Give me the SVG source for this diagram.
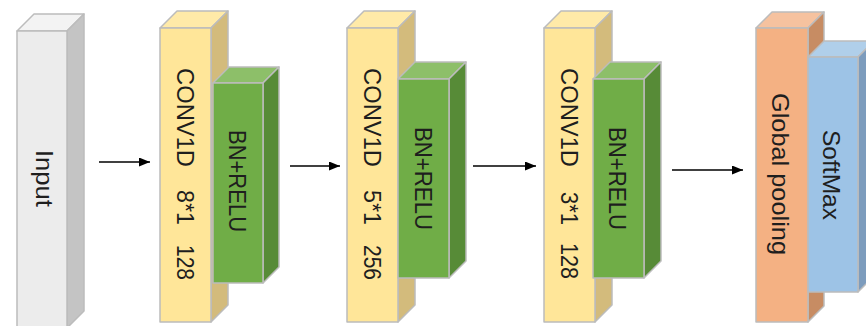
<svg xmlns="http://www.w3.org/2000/svg" width="866" height="326" viewBox="0 0 866 326">
<style>
.s{stroke:#bcbcbc;stroke-width:1.5;stroke-linejoin:round}
.inF{fill:#ececec}.inT{fill:#f3f3f3}.inS{fill:#c4c4c4}
.cvF{fill:#ffe699}.cvT{fill:#ffeaa8}.cvS{fill:#d3bb7c}
.bnF{fill:#70ad47}.bnT{fill:#8dbf69}.bnS{fill:#578b37}
.gpF{fill:#f4b183}.gpT{fill:#f6c29f}.gpS{fill:#c78c63}
.smF{fill:#9dc3e6}.smT{fill:#b0cfea}.smS{fill:#7d9cbd}
text{font-family:"Liberation Sans",Arial,sans-serif;fill:#1e1e1e;font-size:24px}
.arr{stroke:#000;stroke-width:1.5;fill:none}
</style>
<defs>
<marker id="ah" markerUnits="userSpaceOnUse" markerWidth="12" markerHeight="10" refX="11" refY="4.5" orient="auto">
<path d="M0,0 L11,4.5 L0,9 z" fill="#000"/>
</marker>
</defs>

<g id="input">
<polygon class="s inT" points="17,31 34,14 84,14 67,31"/>
<polygon class="s inS" points="67,31 84,14 84,311 67,328"/>
<rect class="s inF" x="17" y="31" width="50" height="297"/>
<text transform="translate(35.5,150) rotate(90)" textLength="57" lengthAdjust="spacingAndGlyphs">Input</text>
</g>

<g id="conv1">
<polygon class="s cvT" points="160,28 177,11 228,11 211,28"/>
<polygon class="s cvS" points="211,28 228,11 228,305 211,322"/>
<rect class="s cvF" x="160" y="28" width="51" height="294"/>
<text transform="translate(177,68) rotate(90)" textLength="99" lengthAdjust="spacingAndGlyphs">CONV1D</text>
<text transform="translate(177,190) rotate(90)" textLength="35" lengthAdjust="spacingAndGlyphs">8*1</text>
<text transform="translate(177,245) rotate(90)" textLength="35" lengthAdjust="spacingAndGlyphs">128</text>
</g>
<g id="bn1">
<polygon class="s bnT" points="213,83 229,67 279,67 263,83"/>
<polygon class="s bnS" points="263,83 279,67 279,267 263,283"/>
<rect class="s bnF" x="213" y="83" width="50" height="200"/>
<text transform="translate(228.5,130) rotate(90)" font-size="26" textLength="102" lengthAdjust="spacingAndGlyphs">BN+RELU</text>
</g>

<g id="conv2">
<polygon class="s cvT" points="347,28 364,11 415,11 398,28"/>
<polygon class="s cvS" points="398,28 415,11 415,305 398,322"/>
<rect class="s cvF" x="347" y="28" width="51" height="294"/>
<text transform="translate(364,68) rotate(90)" textLength="99" lengthAdjust="spacingAndGlyphs">CONV1D</text>
<text transform="translate(364,190) rotate(90)" textLength="35" lengthAdjust="spacingAndGlyphs">5*1</text>
<text transform="translate(364,245) rotate(90)" textLength="35" lengthAdjust="spacingAndGlyphs">256</text>
</g>
<g id="bn2">
<polygon class="s bnT" points="398,79 415,62 466,62 449,79"/>
<polygon class="s bnS" points="449,79 466,62 466,261 449,278"/>
<rect class="s bnF" x="398" y="79" width="51" height="199"/>
<text transform="translate(414.5,127) rotate(90)" font-size="26" textLength="103" lengthAdjust="spacingAndGlyphs">BN+RELU</text>
</g>

<g id="conv3">
<polygon class="s cvT" points="544,28 561,11 612,11 595,28"/>
<polygon class="s cvS" points="595,28 612,11 612,305 595,322"/>
<rect class="s cvF" x="544" y="28" width="51" height="294"/>
<text transform="translate(561,68) rotate(90)" textLength="99" lengthAdjust="spacingAndGlyphs">CONV1D</text>
<text transform="translate(561,192) rotate(90)" textLength="33" lengthAdjust="spacingAndGlyphs">3*1</text>
<text transform="translate(561,243) rotate(90)" textLength="36" lengthAdjust="spacingAndGlyphs">128</text>
</g>
<g id="bn3">
<polygon class="s bnT" points="593,79 610,62 661,62 644,79"/>
<polygon class="s bnS" points="644,79 661,62 661,261 644,278"/>
<rect class="s bnF" x="593" y="79" width="51" height="199"/>
<text transform="translate(608.5,127) rotate(90)" font-size="26" textLength="103" lengthAdjust="spacingAndGlyphs">BN+RELU</text>
</g>

<g id="globalpool">
<polygon class="s gpT" points="756,28 772,12 824,12 808,28"/>
<polygon class="s gpS" points="808,28 824,12 824,306 808,322"/>
<rect class="s gpF" x="756" y="28" width="52" height="294"/>
<text transform="translate(772,93) rotate(90)" font-size="21" textLength="162" lengthAdjust="spacingAndGlyphs">Global pooling</text>
</g>
<g id="softmax">
<polygon class="s smT" points="808,57 824,41 874,41 858,57"/>
<polygon class="s smS" points="858,57 874,41 874,276 858,292"/>
<rect class="s smF" x="808" y="57" width="50" height="235"/>
<text transform="translate(823,130) rotate(90)" font-size="21" textLength="90" lengthAdjust="spacingAndGlyphs">SoftMax</text>
</g>

<g id="connectors">
<line class="arr" x1="99" y1="162" x2="150" y2="162" marker-end="url(#ah)"/>
<line class="arr" x1="290" y1="166" x2="340" y2="166" marker-end="url(#ah)"/>
<line class="arr" x1="473" y1="166" x2="536" y2="166" marker-end="url(#ah)"/>
<line class="arr" x1="672" y1="170" x2="743" y2="170" marker-end="url(#ah)"/>
</g>
</svg>
